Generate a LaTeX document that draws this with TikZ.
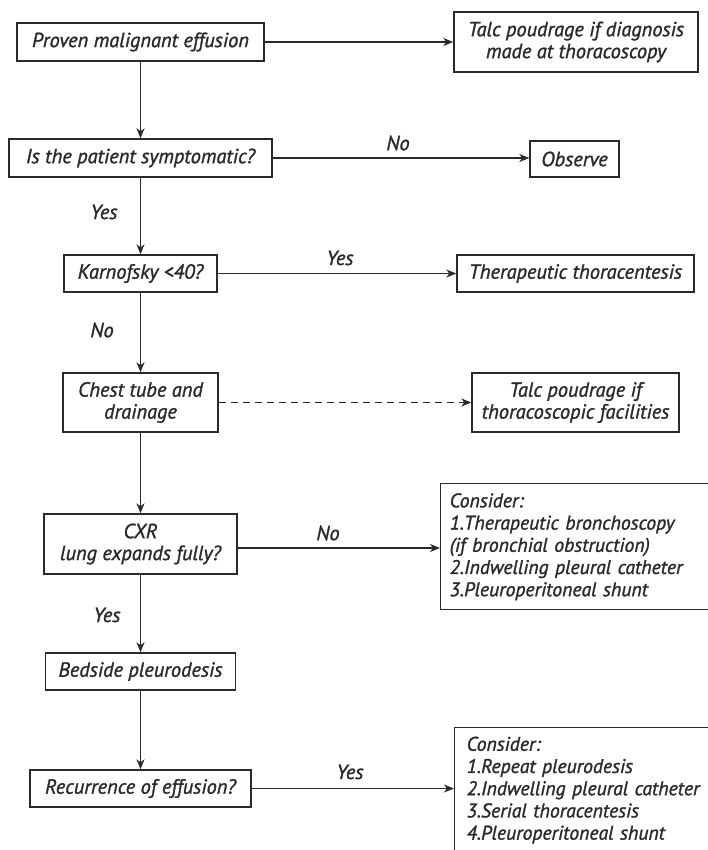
\documentclass[tikz,border=0pt]{standalone}
\usepackage{fontspec}
\setmainfont{PT Sans}[ItalicFeatures={FakeBold=1.3}]
\usetikzlibrary{arrows.meta}
\definecolor{ink}{HTML}{2A2A2A}
\tikzset{
  x=1bp, y=-1bp,
  every node/.style={font=\itshape\fontsize{20.5}{22}\selectfont, text=ink},
  box/.style={draw=ink, line width=1.4bp, inner sep=0pt, align=center},
  lbox/.style={draw=ink, line width=1.4bp, inner sep=0pt, align=left, anchor=north west,
    font=\itshape\fontsize{19.8}{22.3}\selectfont},
  conn/.style={draw=ink, line width=1.3bp, -{Stealth[length=10bp,width=8bp,inset=3bp]}},
  lab/.style={inner sep=0pt}
}
\begin{document}
\begin{tikzpicture}
\useasboundingbox (0,0) rectangle (708,850);
\fill[white] (0,0) rectangle (708,850);
% main column
\node[box, minimum width=247bp, minimum height=38bp] (b1) at (140.5,42) {Proven malignant effusion};
\node[box, minimum width=263bp, minimum height=38bp] (b2) at (140.5,158) {Is the patient symptomatic?};
\node[box, minimum width=153bp, minimum height=37bp] (b3) at (140.5,273.5) {Karnofsky <40?};
\node[box, minimum width=155bp, minimum height=59bp] (b4) at (140.5,402.5) {Chest tube and\\drainage};
\node[box, minimum width=193bp, minimum height=60bp] (b5) at (140.5,544) {CXR\\lung expands fully?};
\node[box, minimum width=190bp, minimum height=37bp] (b6) at (140.5,671.5) {Bedside pleurodesis};
\node[box, minimum width=221bp, minimum height=37bp] (b7) at (140.5,788.5) {Recurrence of effusion?};
% right column
\node[box, minimum width=244bp, minimum height=60bp] (r1) at (576,42) {Talc poudrage if diagnosis\\made at thoracoscopy};
\node[box, minimum width=89bp, minimum height=36bp] (r2) at (574.5,159) {Observe};
\node[box, minimum width=237bp, minimum height=37bp] (r3) at (575.5,273.5) {Therapeutic thoracentesis};
\node[box, minimum width=207bp, minimum height=59bp] (r4) at (575.5,402.5) {Talc poudrage if\\thoracoscopic facilities};
\node[lbox, minimum width=280bp, minimum height=126bp, text width=262bp, inner xsep=9bp, inner ysep=6bp] (r5) at (440,483)
  {Consider:\\1.Therapeutic bronchoscopy\\(if bronchial obstruction)\\2.Indwelling pleural catheter\\3.Pleuroperitoneal shunt};
\node[lbox, minimum width=270bp, text width=254bp, inner xsep=12bp, inner ysep=9bp] (r6) at (454,727)
  {Consider:\\1.Repeat pleurodesis\\2.Indwelling pleural catheter\\3.Serial thoracentesis\\4.Pleuroperitoneal shunt\\\mbox{}};
% vertical connectors
\draw[conn] (b1) -- (b2);
\draw[conn] (b2) -- (b3);
\draw[conn] (b3) -- (b4);
\draw[conn] (b4) -- (b5);
\draw[conn] (b5) -- (b6);
\draw[conn] (b6) -- (b7);
% horizontal connectors
\draw[conn] (b1.east) -- (b1.east -| r1.west);
\draw[conn] (b2.east) -- (b2.east -| r2.west);
\draw[conn] (b3.east) -- (b3.east -| r3.west);
\draw[conn, dashed, dash pattern=on 7bp off 5bp] (b4.east) -- (b4.east -| r4.west);
\coordinate (p5) at ([yshift=-4bp]b5.east);
\draw[conn] (p5) -- (p5 -| r5.west);
\draw[conn] (b7.east) -- (b7.east -| r6.west);
% labels
\node[lab] (l1) at (398,143) {No};
\node[lab] (l2) at (104,212) {Yes};
\node[lab] (l3) at (340,258) {Yes};
\node[lab] (l4) at (102,330) {No};
\node[lab] (l5) at (328,533) {No};
\node[lab] (l6) at (107,615) {Yes};
\node[lab] (l7) at (350,772) {Yes};
\end{tikzpicture}
\end{document}
